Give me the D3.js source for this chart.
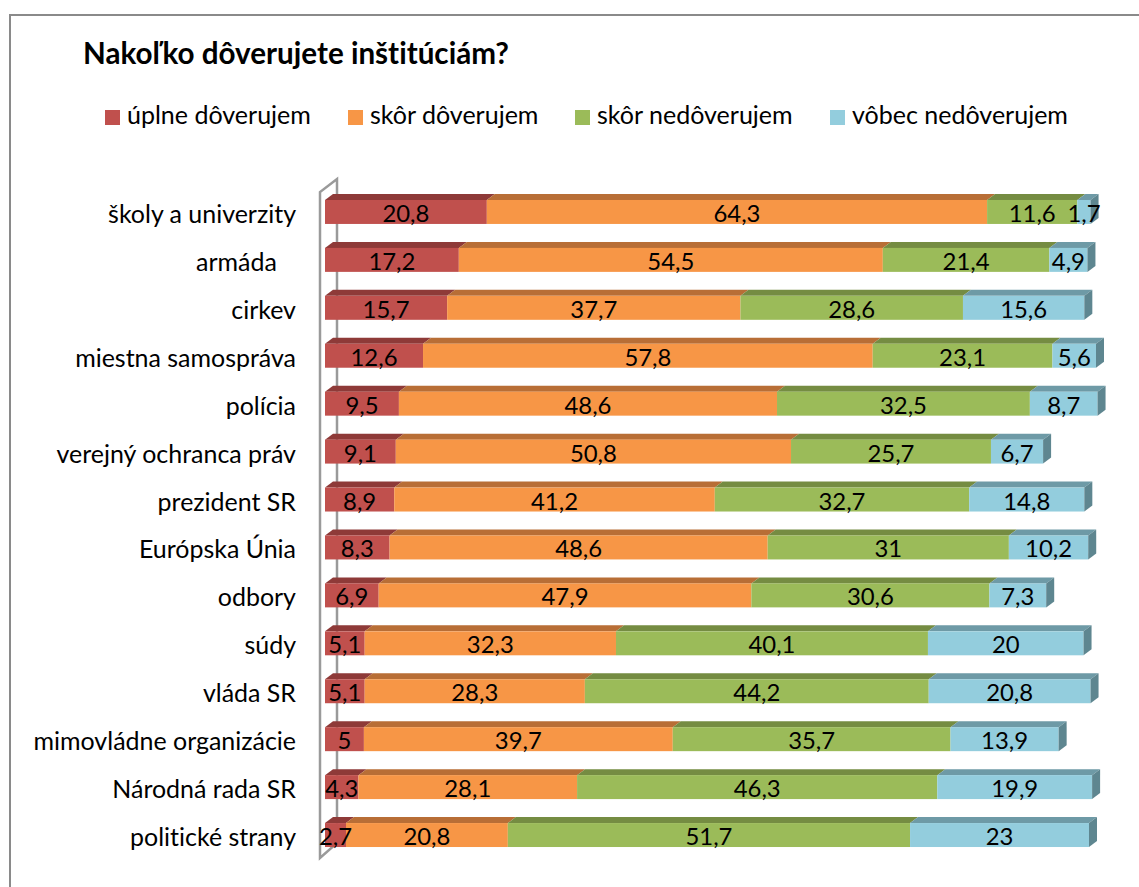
<!DOCTYPE html>
<html>
<head>
<meta charset="utf-8">
<script src="https://cdn.jsdelivr.net/npm/d3@7"></script>
<style>
  body { margin: 0; background: #fff; }
  text { font-family: Lato, "Open Sans", sans-serif; fill: #000; font-variant-ligatures: none; }
</style>
</head>
<body>
<svg id="chart" width="1139" height="887"></svg>
<script>
// data
var categories = ["školy a univerzity", "armáda   ", "cirkev", "miestna samospráva", "polícia",
    "verejný ochranca práv", "prezident SR", "Európska Únia", "odbory", "súdy", "vláda SR",
    "mimovládne organizácie", "Národná rada SR", "politické strany"];
var seriesNames = ["úplne dôverujem", "skôr dôverujem", "skôr nedôverujem", "vôbec nedôverujem"];
var uplne  = [20.8, 17.2, 15.7, 12.6, 9.5, 9.1, 8.9, 8.3, 6.9, 5.1, 5.1, 5, 4.3, 2.7];
var skor   = [64.3, 54.5, 37.7, 57.8, 48.6, 50.8, 41.2, 48.6, 47.9, 32.3, 28.3, 39.7, 28.1, 20.8];
var skorNe = [11.6, 21.4, 28.6, 23.1, 32.5, 25.7, 32.7, 31, 30.6, 40.1, 44.2, 35.7, 46.3, 51.7];
var vobec  = [1.7, 4.9, 15.6, 5.6, 8.7, 6.7, 14.8, 10.2, 7.3, 20, 20.8, 13.9, 19.9, 23];

var frontColors = ["#C0504D", "#F79646", "#9BBB59", "#93CDDD"];
var topColors   = ["#8E3A38", "#B86E36", "#758C42", "#6E9AA6"];
var endColor = "#5E8690";

var rows = categories.map(function(c, i) {
    return {cat: c, a: uplne[i], b: skor[i], c: skorNe[i], d: vobec[i]};
});
var keys = ["a", "b", "c", "d"];
var stacked = d3.stack().keys(keys)(rows);

var svg = d3.select("#chart");
svg.append("rect").attr("width", 1139).attr("height", 887).attr("fill", "#fff");

// outer frame (runs off the right and bottom edge)
svg.append("rect")
    .attr("x", 10).attr("y", 15).attr("width", 1300).attr("height", 1000)
    .attr("fill", "none").attr("stroke", "#8a8a8a").attr("stroke-width", 2);

var x = d3.scaleLinear().domain([0, 100]).range([325, 1103]);
var y = d3.scaleBand().domain(d3.range(categories.length))
    .range([188, 859]).paddingInner(0.5).paddingOuter(0.25);
var dx = 8, dy = 6; // 3d depth

// scale a font so that a sample string gets a given width
function fitFont(str, weight, target) {
    var t = svg.append("text").attr("font-size", 20).attr("font-weight", weight).text(str);
    var w = t.node().getComputedTextLength();
    t.remove();
    return 20 * target / w;
}

// title
svg.append("text")
    .attr("x", 83).attr("y", 64)
    .attr("font-weight", "bold")
    .attr("font-size", fitFont("Nakoľko dôverujete inštitúciám?", "bold", 426))
    .text("Nakoľko dôverujete inštitúciám?");

// legend
var legX = [105, 348, 575, 830];
var legFont = fitFont("úplne dôverujem", "normal", 184);
seriesNames.forEach(function(n, i) {
    svg.append("rect").attr("x", legX[i]).attr("y", 110).attr("width", 15).attr("height", 15)
        .attr("fill", frontColors[i]);
    svg.append("text").attr("x", legX[i] + 22).attr("y", 124)
        .attr("font-size", legFont).text(n);
});

// axis wall (thin 3d panel behind the bars)
var wall = svg.append("g").attr("fill", "none").attr("stroke", "#9a9a9a").attr("stroke-width", 2.5);
wall.append("path").attr("d", "M320,858 L320,192 L337,179 L337,843 Z");

// category labels
var catFont = fitFont("školy a univerzity", "normal", 188);
svg.append("g").selectAll("text")
    .data(categories)
    .enter().append("text")
    .attr("x", 296)
    .attr("y", function(d, i) { return y(i) + y.bandwidth() / 2 + 11; })
    .attr("text-anchor", "end")
    .attr("font-size", catFont)
    .style("white-space", "pre")
    .text(function(d) { return d; });

// bars
var bh = y.bandwidth();
var barG = svg.append("g");
stacked.forEach(function(layer, k) {
    layer.forEach(function(seg, i) {
        var x1 = x(seg[0]), x2 = x(seg[1]), yt = y(i);
        var g = barG.append("g");
        g.append("path")
            .attr("d", "M" + x1 + "," + yt + "L" + (x1 + dx) + "," + (yt - dy) +
                "L" + (x2 + dx) + "," + (yt - dy) + "L" + x2 + "," + yt + "Z")
            .attr("fill", topColors[k]);
        g.append("rect")
            .attr("x", x1).attr("y", yt).attr("width", x2 - x1).attr("height", bh)
            .attr("fill", frontColors[k]);
        if (k === keys.length - 1) {
            g.append("path")
                .attr("d", "M" + x2 + "," + yt + "L" + (x2 + dx) + "," + (yt - dy) +
                    "L" + (x2 + dx) + "," + (yt + bh - dy) + "L" + x2 + "," + (yt + bh) + "Z")
                .attr("fill", endColor);
        }
    });
});

// value labels
var valFont = fitFont("20,8", "normal", 47);
stacked.forEach(function(layer, k) {
    layer.forEach(function(seg, i) {
        svg.append("text")
            .attr("x", (x(seg[0]) + x(seg[1])) / 2)
            .attr("y", y(i) + bh / 2 + 10)
            .attr("text-anchor", "middle")
            .attr("font-size", valFont)
            .text(String(rows[i][keys[k]]).replace(".", ","));
    });
});
</script>
</body>
</html>
